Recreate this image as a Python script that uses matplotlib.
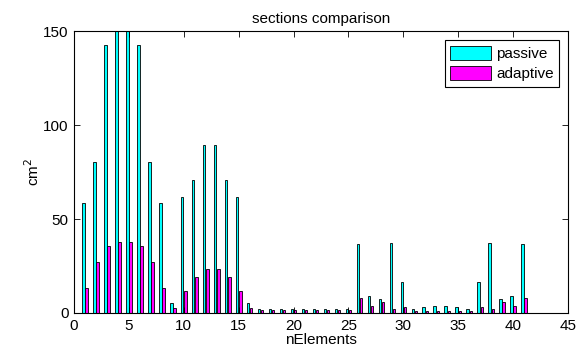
import matplotlib
matplotlib.use("Agg")
import matplotlib.pyplot as plt
import numpy as np

plt.rcParams['font.family'] = ['Liberation Sans', 'DejaVu Sans']

elements = list(range(1, 42))
passive = [58.6, 80.2, 142.7, 158, 158, 142.7, 80.2, 58.6, 5.3,
           61.6, 70.7, 89.3, 89.3, 70.7, 61.6, 5.3,
           2.1, 2.1, 2.1, 2.3, 2.1, 2.1, 2.1, 2.1, 2.3,
           36.8, 8.9, 7.6, 37.1, 16.4, 2.0, 3.0, 3.9, 3.9, 3.0, 2.0,
           16.4, 37.1, 7.6, 8.9, 36.8]
adaptive = [13.3, 27.1, 35.4, 37.9, 37.9, 35.4, 27.1, 13.3, 2.4,
            11.5, 18.9, 23.5, 23.5, 18.9, 11.5, 2.4,
            1.6, 1.6, 1.6, 1.6, 1.6, 1.6, 1.6, 1.6, 1.6,
            8.0, 3.9, 6.0, 2.3, 3.0, 1.1, 1.1, 1.1, 1.1, 1.1, 1.1,
            3.0, 2.3, 6.0, 3.9, 8.0]
labels = ['passive', 'adaptive']
title = 'sections comparison'
xticks = [0, 5, 10, 15, 20, 25, 30, 35, 40, 45]
yticks = [0, 50, 100, 150]

fig = plt.figure(figsize=(5.87, 3.58), dpi=100)
ax = fig.add_axes([0.1261, 0.1257, 0.8416, 0.7877])

x = np.array(elements)
w = 0.229
off = 0.143
ax.bar(x - off, passive, width=w, color='#00ffff', edgecolor='black', linewidth=0.6, label=labels[0])
ax.bar(x + off, adaptive, width=w, color='#ff00ff', edgecolor='black', linewidth=0.6, label=labels[1])

ax.set_xlim(0, 45)
ax.set_ylim(0, 150)
ax.set_xticks(xticks)
ax.set_yticks(yticks)
ax.tick_params(direction='in', top=True, right=True, labelsize=11, length=4, width=0.6, pad=4)
for s in ax.spines.values():
    s.set_linewidth(0.8)
ax.set_title(title, fontsize=11, pad=6)
ax.set_xlabel('nElements', fontsize=11, labelpad=0)
ax.set_ylabel('cm$^2$', fontsize=11, labelpad=1)

leg = ax.legend(loc='upper right', fontsize=11, frameon=True, fancybox=False,
                edgecolor='black', framealpha=1, handlelength=2.7, handleheight=1.1,
                borderaxespad=0.6, handletextpad=0.3, labelspacing=0.3, borderpad=0.35)
leg.get_frame().set_linewidth(0.8)

fig.savefig('out.png', dpi=100)
